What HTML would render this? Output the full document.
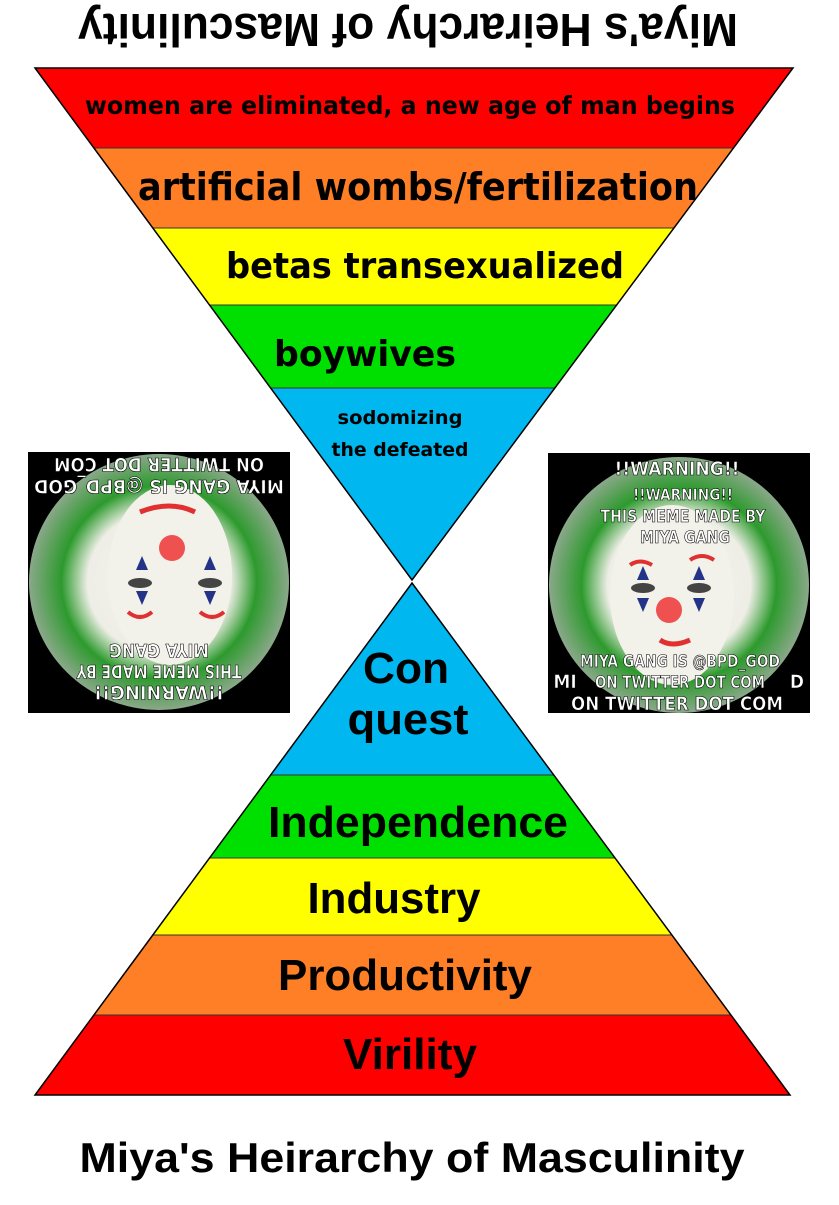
<!DOCTYPE html>
<html><head><meta charset="utf-8"><style>
body{margin:0;background:#fff;width:839px;height:1200px;overflow:hidden;font-family:"Liberation Sans",sans-serif}
</style></head><body>
<svg width="839" height="1200" xmlns="http://www.w3.org/2000/svg" font-family="Liberation Sans, sans-serif" font-weight="bold">
<defs>
<clipPath id="ct"><polygon points="35,68 793,68 412,580"/></clipPath>
<clipPath id="cb"><polygon points="412,583 790,1095 35,1095"/></clipPath>
<radialGradient id="g1" cx="50%" cy="50%" r="50%"><stop offset="0" stop-color="#f4f4ee"/><stop offset="0.55" stop-color="#eeeee6"/><stop offset="0.75" stop-color="#2d9a2d"/><stop offset="1" stop-color="#8aa88a"/></radialGradient>
</defs>
<text x="408" y="46" font-size="46" text-anchor="middle" textLength="660" lengthAdjust="spacingAndGlyphs" transform="rotate(180 408 30)">Miya's Heirarchy of Masculinity</text>
<g clip-path="url(#ct)">
<rect x="0" y="68" width="839" height="80" fill="#ff0000"/>
<rect x="0" y="148" width="839" height="80" fill="#ff7f27"/>
<rect x="0" y="228" width="839" height="77" fill="#ffff00"/>
<rect x="0" y="305" width="839" height="83" fill="#00e000"/>
<rect x="0" y="388" width="839" height="200" fill="#00b7ef"/>
<g stroke="#333" stroke-width="1"><line x1="0" y1="148" x2="839" y2="148"/><line x1="0" y1="228" x2="839" y2="228"/><line x1="0" y1="305" x2="839" y2="305"/><line x1="0" y1="388" x2="839" y2="388"/></g>
</g>
<polygon points="35,68 793,68 412,580" fill="none" stroke="#000" stroke-width="1.5"/>
<g font-family="DejaVu Sans Condensed, DejaVu Sans, sans-serif" text-anchor="middle">
<text x="410" y="114" font-size="25" textLength="650" lengthAdjust="spacingAndGlyphs">women are eliminated, a new age of man begins</text>
<text x="418" y="200" font-size="38" textLength="560" lengthAdjust="spacingAndGlyphs">artificial wombs/fertilization</text>
<text x="425" y="278" font-size="36" textLength="398" lengthAdjust="spacingAndGlyphs">betas transexualized</text>
<text x="365" y="366" font-size="36" textLength="182" lengthAdjust="spacingAndGlyphs">boywives</text>
<text x="400" y="424" font-size="19" textLength="125" lengthAdjust="spacingAndGlyphs">sodomizing</text>
<text x="400" y="456" font-size="19" textLength="137" lengthAdjust="spacingAndGlyphs">the defeated</text>
</g>
<g clip-path="url(#cb)">
<rect x="0" y="583" width="839" height="192" fill="#00b7ef"/>
<rect x="0" y="775" width="839" height="83" fill="#00e000"/>
<rect x="0" y="858" width="839" height="77" fill="#ffff00"/>
<rect x="0" y="935" width="839" height="80" fill="#ff7f27"/>
<rect x="0" y="1015" width="839" height="80" fill="#ff0000"/>
<g stroke="#333" stroke-width="1"><line x1="0" y1="775" x2="839" y2="775"/><line x1="0" y1="858" x2="839" y2="858"/><line x1="0" y1="935" x2="839" y2="935"/><line x1="0" y1="1015" x2="839" y2="1015"/></g>
</g>
<polygon points="412,583 790,1095 35,1095" fill="none" stroke="#000" stroke-width="1.5"/>
<g text-anchor="middle" font-size="44" lengthAdjust="spacingAndGlyphs">
<text x="406" y="683" textLength="86" lengthAdjust="spacingAndGlyphs">Con</text>
<text x="408" y="734" textLength="121" lengthAdjust="spacingAndGlyphs">quest</text>
<text x="418" y="837" textLength="300" lengthAdjust="spacingAndGlyphs">Independence</text>
<text x="394" y="913" textLength="173" lengthAdjust="spacingAndGlyphs">Industry</text>
<text x="405" y="990" textLength="254" lengthAdjust="spacingAndGlyphs">Productivity</text>
<text x="410" y="1069" textLength="134" lengthAdjust="spacingAndGlyphs">Virility</text>
<text x="412" y="1172" font-size="42" textLength="665" lengthAdjust="spacingAndGlyphs">Miya's Heirarchy of Masculinity</text>
</g>
<!-- left image -->
<rect x="28" y="452" width="262" height="261" fill="#000"/>
<ellipse cx="159" cy="582" rx="130" ry="128" fill="url(#g1)"/>
<ellipse cx="170" cy="575" rx="62" ry="90" fill="#f2f2ea"/>
<path d="M140 512 Q170 500 195 512" stroke="#e03030" stroke-width="5" fill="none"/>
<path d="M128 612 Q140 622 152 612 M200 612 Q212 622 224 612" stroke="#e03030" stroke-width="4" fill="none"/>
<circle cx="172" cy="548" r="13" fill="#ef5050"/>
<polygon points="142,556 148,570 136,570" fill="#223388"/><polygon points="210,556 216,570 204,570" fill="#223388"/>
<polygon points="142,605 148,591 136,591" fill="#223388"/><polygon points="210,605 216,591 204,591" fill="#223388"/>
<ellipse cx="140" cy="583" rx="12" ry="5" fill="#444"/><ellipse cx="210" cy="583" rx="12" ry="5" fill="#444"/>
<g transform="rotate(180 159 582)" fill="#fff" stroke="#000" stroke-width="0.6" font-size="19" font-family="DejaVu Sans Condensed, sans-serif" text-anchor="middle">
<text x="159" y="478" textLength="130" lengthAdjust="spacingAndGlyphs">!!WARNING!!</text>
<text x="159" y="499" textLength="165" lengthAdjust="spacingAndGlyphs">THIS MEME MADE BY</text>
<text x="159" y="520" textLength="100" lengthAdjust="spacingAndGlyphs">MIYA GANG</text>
<text x="159" y="684" textLength="250" lengthAdjust="spacingAndGlyphs">MIYA GANG IS @BPD_GOD</text>
<text x="159" y="706" textLength="210" lengthAdjust="spacingAndGlyphs">ON TWITTER DOT COM</text>
</g>
<!-- right image -->
<rect x="548" y="453" width="262" height="260" fill="#000"/>
<ellipse cx="679" cy="585" rx="130" ry="128" fill="url(#g1)"/>
<ellipse cx="672" cy="595" rx="62" ry="90" fill="#f2f2ea"/>
<path d="M630 565 Q640 558 652 565 M690 560 Q702 552 714 560" stroke="#e03030" stroke-width="4" fill="none"/>
<path d="M660 640 Q672 648 690 640" stroke="#e03030" stroke-width="5" fill="none"/>
<circle cx="669" cy="610" r="13" fill="#ef5050"/>
<polygon points="643,566 649,580 637,580" fill="#223388"/><polygon points="699,566 705,580 693,580" fill="#223388"/>
<polygon points="643,612 649,598 637,598" fill="#223388"/><polygon points="699,612 705,598 693,598" fill="#223388"/>
<ellipse cx="643" cy="588" rx="12" ry="5" fill="#444"/><ellipse cx="699" cy="588" rx="12" ry="5" fill="#444"/>
<g fill="#fff" stroke="#000" stroke-width="0.6" font-size="19" font-family="DejaVu Sans Condensed, sans-serif" text-anchor="middle">
<text x="677" y="475" textLength="125" lengthAdjust="spacingAndGlyphs">!!WARNING!!</text>
<text x="683" y="500" font-size="16" textLength="100" lengthAdjust="spacingAndGlyphs">!!WARNING!!</text>
<text x="683" y="522" font-size="17" textLength="165" lengthAdjust="spacingAndGlyphs">THIS MEME MADE BY</text>
<text x="685" y="543" font-size="17" textLength="90" lengthAdjust="spacingAndGlyphs">MIYA GANG</text>
<text x="680" y="667" font-size="17" textLength="200" lengthAdjust="spacingAndGlyphs">MIYA GANG IS @BPD_GOD</text>
<text x="680" y="688" font-size="17" textLength="170" lengthAdjust="spacingAndGlyphs">ON TWITTER DOT COM</text>
<text x="677" y="710" textLength="212" lengthAdjust="spacingAndGlyphs">ON TWITTER DOT COM</text>
<text x="565" y="688">MI</text><text x="797" y="688">D</text>
</g>
</svg>
</body></html>
